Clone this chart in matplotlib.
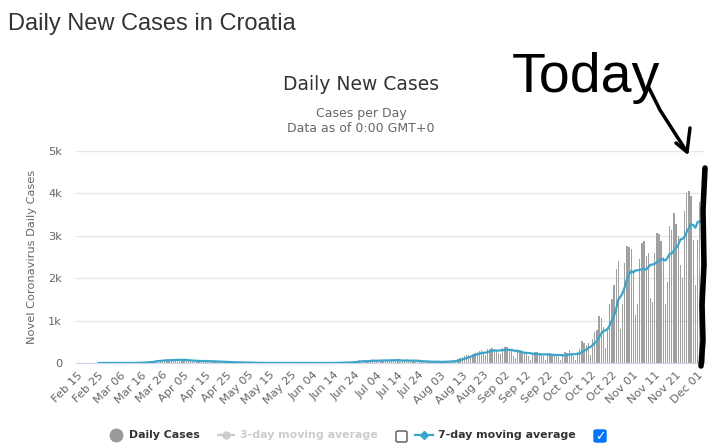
import matplotlib
matplotlib.use("Agg")
import matplotlib.pyplot as plt
from matplotlib.lines import Line2D
from matplotlib.patches import FancyBboxPatch
import numpy as np
import pandas as pd

# daily new cases, Feb 15 .. Dec 04 2020
feb = [np.nan] * 10 + [1, 2, 0, 2, 1]
mar = [0, 1, 0, 0, 0, 1, 0, 1, 1, 1, 2, 5, 5, 5, 10, 7, 12, 24, 25, 43,
       29, 52, 81, 67, 60, 53, 71, 71, 56, 77, 76]
apr = [96, 72, 77, 46, 79, 54, 54, 42, 52, 54, 27, 61, 32, 63, 24, 44, 37, 41, 35, 27,
       26, 26, 21, 22, 30, 12, 7, 15, 16, 18]
may = [9, 6, 8, 2, 2, 5, 3, 0, 2, 3, 1, 1, 0, 2, 3, 0, 1, 0, 0, 2,
       0, 1, 0, 1, 0, 0, 0, 0, 1, 1, 0]
jun = [0, 0, 1, 0, 0, 0, 0, 0, 0, 1, 0, 2, 4, 5, 8, 5, 9, 13, 18, 11,
       15, 24, 31, 32, 48, 67, 58, 38, 20, 41]
jul = [52, 95, 62, 63, 48, 43, 47, 80, 53, 96, 65, 65, 67, 60, 33, 40, 60, 91, 49, 54,
       64, 33, 30, 33, 26, 51, 30, 23, 21, 22, 42]
aug = [30, 24, 20, 28, 32, 36, 50, 60, 54, 48, 90, 120, 144, 160, 180, 200, 150, 220, 240, 250,
       280, 300, 250, 180, 320, 330, 350, 330, 300, 240, 210]
sep = [360, 380, 370, 310, 290, 160, 120, 330, 300, 280, 230, 240, 160, 80, 230, 270, 250, 220, 210, 160,
       70, 230, 240, 220, 200, 190, 150, 60, 210, 250]
octo = [230, 300, 230, 160, 80, 250, 320, 510, 470, 430, 480, 180, 560, 720, 770, 1100, 1060, 850, 350, 770,
        1390, 1520, 1840, 2220, 2400, 800, 1400, 2350, 2760, 2740, 2700]
nov = [2200, 1140, 1400, 2450, 2830, 2870, 2520, 2600, 1540, 1440, 2600, 3070, 3040, 2870, 2500, 1400, 1900, 3240, 3130, 3540,
       3290, 3000, 2300, 2000, 3590, 4000, 4060, 3940, 2900, 1830]
dec = [2900, 3800, 3700, 3600]

cases = pd.Series(feb + mar + apr + may + jun + jul + aug + sep + octo + nov + dec)
dates = pd.date_range("2020-02-15", periods=len(cases), freq="D")
avg7 = cases.rolling(7, min_periods=1).mean()

yticks = [0, 1000, 2000, 3000, 4000, 5000]
ylabels = ["0", "1k", "2k", "3k", "4k", "5k"]
xtick_idx = list(range(0, len(cases), 10))
xlabels = [dates[i].strftime("%b %d") for i in xtick_idx]

W, H = 716, 447
fig = plt.figure(figsize=(W / 100, H / 100), dpi=100)
def fx(x): return x / W
def fy(y): return 1 - y / H

ax = fig.add_axes([fx(76), fy(363), fx(705) - fx(76), fy(151) - fy(363)])
idx = np.arange(len(cases))
ax.bar(idx, cases.fillna(0), width=0.6, color="#a0a0a0", linewidth=0, zorder=2)
ax.plot(idx, avg7, color="#3aa5cb", lw=1.6, zorder=3, solid_capstyle="round")
ax.set_xlim(-0.5, len(cases) - 0.5)
ax.set_ylim(0, 5000)
ax.set_yticks(yticks)
ax.set_yticklabels(ylabels)
ax.set_xticks(xtick_idx)
ax.set_xticklabels(xlabels, rotation=45, ha="right", rotation_mode="anchor")
ax.yaxis.grid(True, color="#e6e6e6", lw=1)
ax.set_axisbelow(True)
for s in ["top", "right", "left"]:
    ax.spines[s].set_visible(False)
ax.spines["bottom"].set_color("#ccd6eb")
ax.tick_params(axis="y", length=0, pad=10, labelsize=8.2, labelcolor="#666666")
ax.tick_params(axis="x", length=0, pad=5, labelsize=8.2, labelcolor="#666666")
for lab in ax.get_xticklabels():
    lab.set_x(lab.get_position()[0])
ax.set_ylabel("Novel Coronavirus Daily Cases", fontsize=8.2, color="#666666", labelpad=8)

# titles
fig.text(fx(8), fy(30), "Daily New Cases in Croatia", fontsize=17, color="#333333",
         family="Liberation Sans", va="baseline")
fig.text(fx(361), fy(90), "Daily New Cases", fontsize=13.5, color="#333333", ha="center", va="baseline")
fig.text(fx(361), fy(117), "Cases per Day", fontsize=9, color="#666666", ha="center", va="baseline")
fig.text(fx(361), fy(132), "Data as of 0:00 GMT+0", fontsize=9, color="#666666", ha="center", va="baseline")

# legend
ly = 435
fig.add_artist(Line2D([fx(116)], [fy(ly)], marker="o", ms=9, color="#999999", ls=""))
fig.text(fx(129), fy(ly), "Daily Cases", fontsize=7.9, weight="bold", color="#333333", va="center")
fig.add_artist(Line2D([fx(218), fx(234)], [fy(ly), fy(ly)], color="#cccccc", lw=1.6))
fig.add_artist(Line2D([fx(226)], [fy(ly)], marker="o", ms=5, color="#cccccc", ls=""))
fig.text(fx(240), fy(ly), "3-day moving average", fontsize=7.9, weight="bold", color="#cccccc", va="center")
fig.add_artist(FancyBboxPatch((fx(396), fy(442)), fx(11), fy(431) - fy(442),
                              boxstyle="round,pad=0,rounding_size=0.003", fc="white", ec="#555555", lw=1))
fig.add_artist(Line2D([fx(415), fx(433)], [fy(ly), fy(ly)], color="#3aa5cb", lw=1.6))
fig.add_artist(Line2D([fx(424)], [fy(ly)], marker="D", ms=4, color="#3aa5cb", ls=""))
fig.text(fx(438), fy(ly), "7-day moving average", fontsize=7.9, weight="bold", color="#333333", va="center")
fig.add_artist(FancyBboxPatch((fx(594), fy(442)), fx(12), fy(430) - fy(442),
                              boxstyle="round,pad=0,rounding_size=0.003", fc="#0075ff", ec="#0075ff", lw=1))
fig.text(fx(600), fy(436.5), "\u2713", fontsize=9, weight="bold", color="white", ha="center", va="center")

# hand-drawn note
fig.text(fx(512), fy(92), "Today", fontsize=40, color="black", family="Liberation Sans", va="baseline")
fig.add_artist(Line2D([fx(648), fx(660), fx(676), fx(687)], [fy(86), fy(110), fy(135), fy(152)],
                      color="black", lw=2.5, solid_capstyle="round"))
fig.add_artist(Line2D([fx(676), fx(687), fx(690)], [fy(143), fy(152), fy(128)],
                      color="black", lw=2.5, solid_capstyle="round", solid_joinstyle="round"))
fig.add_artist(Line2D([fx(705), fx(703), fx(704), fx(702), fx(703), fx(701)],
                      [fy(168), fy(210), fy(265), fy(305), fy(340), fy(366)],
                      color="black", lw=4, solid_capstyle="round", solid_joinstyle="round"))

fig.savefig("out.png", dpi=100)
